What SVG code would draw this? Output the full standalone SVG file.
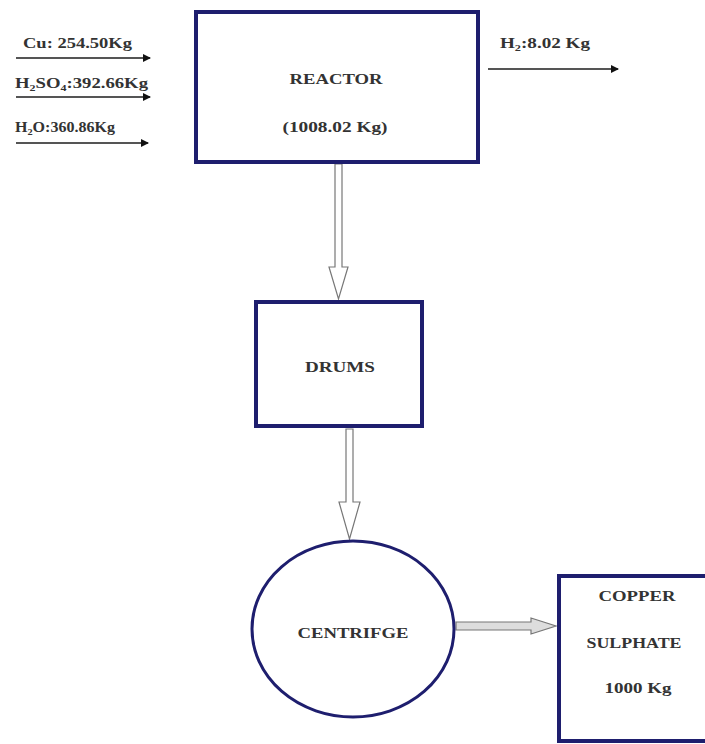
<svg xmlns="http://www.w3.org/2000/svg" width="705" height="744" viewBox="0 0 705 744">
<style>
.box{fill:#ffffff;stroke:#1e1e6e;stroke-width:4}
.t{font-family:"Liberation Serif","Times New Roman",serif;font-weight:bold;font-size:14px;fill:#333333}
.flow{stroke:#555555;stroke-width:2;fill:none}
.hollow{fill:#ffffff;stroke:#777777;stroke-width:1.2}
</style>
<defs>
<marker id="ah" markerWidth="8" markerHeight="8" refX="7" refY="4" orient="auto" markerUnits="userSpaceOnUse">
<path d="M0,0 L8,4 L0,8 z" fill="#111111"/>
</marker>
</defs>
<rect width="705" height="744" fill="#ffffff"/>
<g id="connectors">
<line class="flow" x1="16" y1="58" x2="150" y2="58" marker-end="url(#ah)"/>
<line class="flow" x1="16" y1="97" x2="150" y2="97" marker-end="url(#ah)"/>
<line class="flow" x1="16" y1="143" x2="148" y2="143" marker-end="url(#ah)"/>
<line class="flow" x1="488" y1="69" x2="618" y2="69" marker-end="url(#ah)"/>
<polygon class="hollow" points="335,164 342,164 342,267 348,267 338.5,299 329,267 335,267"/>
<polygon class="hollow" points="346,429 353,429 353,502 360,502 349.5,539 339,502 346,502"/>
<polygon class="hollow" style="fill:#dddddd" points="456,622 531,622 531,618 556,626 531,634 531,630 456,630"/>
</g>
<g id="inputs">
<text class="t" x="23" y="48" textLength="109" lengthAdjust="spacingAndGlyphs">Cu: 254.50Kg</text>
<text class="t" x="15" y="88" textLength="133" lengthAdjust="spacingAndGlyphs">H<tspan font-size="9" dy="3">2</tspan><tspan dy="-3">SO</tspan><tspan font-size="9" dy="3">4</tspan><tspan dy="-3">:392.66Kg</tspan></text>
<text class="t" x="15" y="132" textLength="100" lengthAdjust="spacingAndGlyphs">H<tspan font-size="9" dy="3">2</tspan><tspan dy="-3">O:360.86Kg</tspan></text>
</g>
<g id="output-h2">
<text class="t" x="500" y="48" textLength="90" lengthAdjust="spacingAndGlyphs">H<tspan font-size="9" dy="3">2</tspan><tspan dy="-3">:8.02 Kg</tspan></text>
</g>
<g id="reactor">
<rect class="box" x="196" y="12" width="282" height="150"/>
<text class="t" x="336" y="84" text-anchor="middle" textLength="93" lengthAdjust="spacingAndGlyphs">REACTOR</text>
<text class="t" x="335" y="132" text-anchor="middle" textLength="105" lengthAdjust="spacingAndGlyphs">(1008.02 Kg)</text>
</g>
<g id="drums">
<rect class="box" x="256" y="302" width="166" height="124"/>
<text class="t" x="340" y="372" text-anchor="middle" textLength="70" lengthAdjust="spacingAndGlyphs">DRUMS</text>
</g>
<g id="centrifuge">
<ellipse class="box" cx="353" cy="629" rx="101" ry="88" style="stroke-width:3"/>
<text class="t" x="353" y="638" text-anchor="middle" textLength="111" lengthAdjust="spacingAndGlyphs">CENTRIFGE</text>
</g>
<g id="copper-sulphate">
<rect class="box" x="559" y="576" width="160" height="165"/>
<text class="t" x="637" y="601" text-anchor="middle" textLength="77" lengthAdjust="spacingAndGlyphs">COPPER</text>
<text class="t" x="634" y="648" text-anchor="middle" textLength="95" lengthAdjust="spacingAndGlyphs">SULPHATE</text>
<text class="t" x="638" y="693" text-anchor="middle" textLength="67" lengthAdjust="spacingAndGlyphs">1000 Kg</text>
</g>
</svg>
